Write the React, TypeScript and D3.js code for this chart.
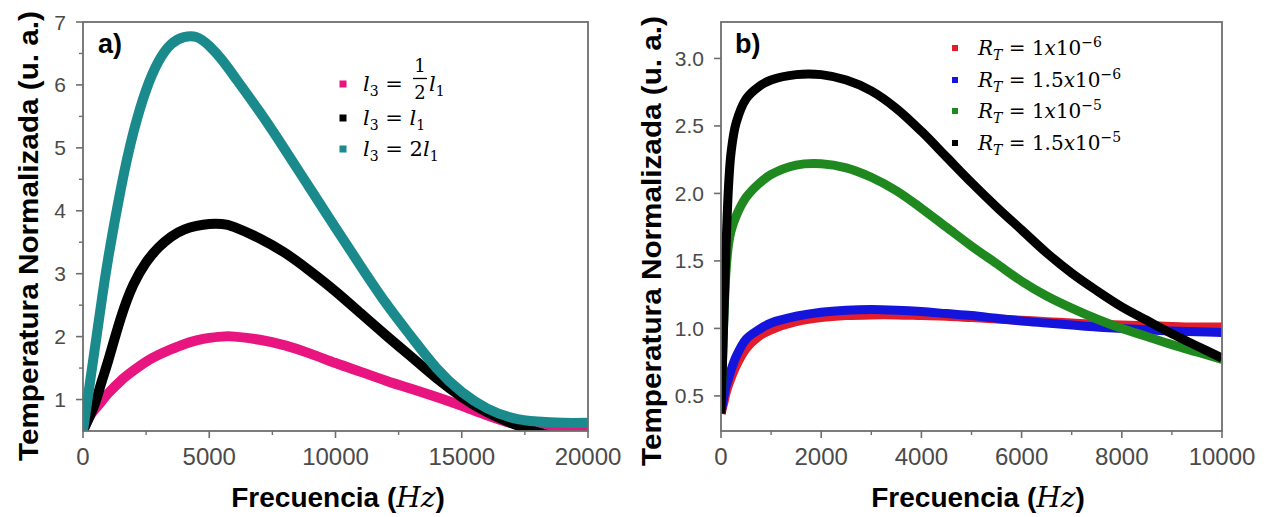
import React from "react";
import * as d3 from "d3";

// ---- Panel a): normalized temperature vs frequency for three l3 lengths ----
const freqA = [0, 250, 500, 750, 1000, 1500, 2000, 2500, 3000, 3500, 4000, 4500, 5000, 5500, 6000, 7000, 8000, 9000, 10000, 11000, 12000, 13000, 14000, 15000, 16000, 17000, 18000, 19000, 20000];
const halfL1 = [0.5, 0.72, 0.86, 0.98, 1.1, 1.3, 1.46, 1.6, 1.71, 1.8, 1.88, 1.94, 1.98, 2.0, 2.0, 1.95, 1.86, 1.73, 1.58, 1.44, 1.3, 1.17, 1.04, 0.9, 0.75, 0.62, 0.54, 0.52, 0.51];
const equalL1 = [0.5, 0.72, 0.97, 1.3, 1.62, 2.3, 2.83, 3.18, 3.42, 3.59, 3.7, 3.76, 3.79, 3.79, 3.74, 3.56, 3.33, 3.04, 2.72, 2.37, 2.02, 1.68, 1.34, 1.04, 0.8, 0.62, 0.48, 0.38, 0.32];
const doubleL1 = [0.5, 1.2, 1.9, 2.6, 3.25, 4.35, 5.25, 5.92, 6.38, 6.65, 6.76, 6.76, 6.62, 6.4, 6.13, 5.57, 4.97, 4.35, 3.73, 3.12, 2.53, 2.0, 1.5, 1.12, 0.86, 0.71, 0.65, 0.63, 0.63];
const xTicksA = [0, 5000, 10000, 15000, 20000];
const xMinorA = [2500, 7500, 12500, 17500];
const yTicksA = [1, 2, 3, 4, 5, 6, 7];
const yMinorA = [1.5, 2.5, 3.5, 4.5, 5.5, 6.5];

// ---- Panel b): normalized temperature vs frequency for four R_T values ----
const freqB = [0, 50, 100, 150, 200, 300, 500, 750, 1000, 1500, 2000, 2500, 3000, 3500, 4000, 4500, 5000, 5500, 6000, 6500, 7000, 7500, 8000, 8500, 9000, 9500, 10000];
const rt1e6 = [0.37, 0.44, 0.52, 0.58, 0.63, 0.72, 0.85, 0.94, 0.99, 1.05, 1.08, 1.095, 1.1, 1.1, 1.095, 1.09, 1.08, 1.07, 1.06, 1.05, 1.04, 1.03, 1.025, 1.02, 1.015, 1.01, 1.01];
const rt15e6 = [0.37, 0.48, 0.57, 0.63, 0.69, 0.79, 0.92, 0.99, 1.04, 1.09, 1.12, 1.135, 1.14, 1.135, 1.125, 1.11, 1.095, 1.075, 1.055, 1.04, 1.025, 1.01, 1.0, 0.99, 0.98, 0.975, 0.97];
const rt1e5 = [0.37, 1.0, 1.42, 1.62, 1.72, 1.83, 1.97, 2.07, 2.14, 2.21, 2.22, 2.19, 2.12, 2.02, 1.89, 1.75, 1.61, 1.48, 1.35, 1.24, 1.15, 1.07, 1.0, 0.94, 0.88, 0.825, 0.77];
const rt15e5 = [0.37, 1.0, 1.6, 2.05, 2.3, 2.52, 2.7, 2.79, 2.84, 2.88, 2.88, 2.84, 2.76, 2.63, 2.46, 2.27, 2.08, 1.9, 1.73, 1.56, 1.41, 1.28, 1.16, 1.06, 0.96, 0.87, 0.78];
const xTicksB = [0, 2000, 4000, 6000, 8000, 10000];
const xMinorB = [1000, 3000, 5000, 7000, 9000];
const yTicksB = [0.5, 1.0, 1.5, 2.0, 2.5, 3.0];

const SANS = "'Liberation Sans', Arial, Helvetica, sans-serif";
const MATH = "'DejaVu Serif', 'Liberation Serif', serif";
const AXIS = "#6e6e6e";
const TICKTXT = "#4a4a4a";

type Series = { values: number[]; color: string };

function Panel(props: {
  id: string;
  freq: number[];
  series: Series[];
  curve: d3.CurveFactory;
  xDomain: [number, number];
  xRange: [number, number];
  yDomain: [number, number];
  yRange: [number, number];
  xTicks: number[];
  xMinor: number[];
  yTicks: number[];
  yMinor: number[];
  yFmt: (v: number) => string;
  strokeW: number;
  titleX: number;
  titleYc: number;
  xTitleC: number;
  tag: string;
  tagX: number;
}) {
  const p = props;
  const x = d3.scaleLinear().domain(p.xDomain).range(p.xRange);
  const y = d3.scaleLinear().domain(p.yDomain).range(p.yRange);
  const [x0, x1] = p.xRange;
  const [yb, yt] = p.yRange;
  const line = d3
    .line<number>()
    .x((_, i) => x(p.freq[i]))
    .y((v) => y(v))
    .curve(p.curve);

  return (
    <g>
      <defs>
        <clipPath id={`clip-${p.id}`}>
          <rect x={x0} y={yt} width={x1 - x0} height={yb - yt} />
        </clipPath>
      </defs>
      <g clipPath={`url(#clip-${p.id})`}>
        {p.series.map((s, i) => (
          <path
            key={i}
            d={line(s.values) || ""}
            fill="none"
            stroke={s.color}
            strokeWidth={p.strokeW}
            strokeLinejoin="round"
          />
        ))}
      </g>
      {/* frame */}
      <rect x={x0} y={yt} width={x1 - x0} height={yb - yt} fill="none" stroke={AXIS} strokeWidth={1.8} />
      {/* x ticks */}
      {p.xTicks.map((t) => (
        <g key={`xt${t}`}>
          <line x1={x(t)} x2={x(t)} y1={yb} y2={yb + 7} stroke={AXIS} strokeWidth={1.6} />
          <text x={x(t)} y={yb + 34} textAnchor="middle" fontFamily={SANS} fontSize={24} fill={TICKTXT}>
            {t}
          </text>
        </g>
      ))}
      {p.xMinor.map((t) => (
        <line key={`xm${t}`} x1={x(t)} x2={x(t)} y1={yb} y2={yb + 4} stroke={AXIS} strokeWidth={1.4} />
      ))}
      {/* y ticks */}
      {p.yTicks.map((t) => (
        <g key={`yt${t}`}>
          <line x1={x0 - 7} x2={x0} y1={y(t)} y2={y(t)} stroke={AXIS} strokeWidth={1.6} />
          <text x={x0 - 17} y={y(t)} dy="0.36em" textAnchor="end" fontFamily={SANS} fontSize={21} fill={TICKTXT}>
            {p.yFmt(t)}
          </text>
        </g>
      ))}
      {p.yMinor.map((t) => (
        <line key={`ym${t}`} x1={x0 - 4} x2={x0} y1={y(t)} y2={y(t)} stroke={AXIS} strokeWidth={1.4} />
      ))}
      {/* panel tag */}
      <text x={p.tagX} y={53} fontFamily={SANS} fontWeight="bold" fontSize={27} fill="#000">
        {p.tag}
      </text>
      {/* axis titles */}
      <text x={p.xTitleC} y={507} textAnchor="middle" fontFamily={SANS} fontWeight="bold" fontSize={28} fill="#000">
        {"Frecuencia ("}
        <tspan fontFamily={MATH} fontStyle="italic" fontWeight="normal">Hz</tspan>
        {")"}
      </text>
      <text
        transform={`translate(${p.titleX},${p.titleYc}) rotate(-90)`}
        textAnchor="middle"
        fontFamily={SANS}
        fontWeight="bold"
        fontSize={28}
        fill="#000"
        textLength={450}
        lengthAdjust="spacingAndGlyphs"
      >
        Temperatura Normalizada (u. a.)
      </text>
    </g>
  );
}

function Sub(props: { children: React.ReactNode; italic?: boolean }) {
  return (
    <tspan dy={5} fontSize={14} fontStyle={props.italic ? "italic" : "normal"}>
      {props.children}
    </tspan>
  );
}

export default function App() {
  const colA = { half: "#e8147f", equal: "#000000", double: "#1a8a8c" };
  const colB = { r1: "#e31e2a", r2: "#1414dc", r3: "#1f891f", r4: "#000000" };

  return (
    <svg
      width={1271}
      height={517}
      viewBox="0 0 1271 517"
      style={{ position: "absolute", left: 0, top: 0, background: "#fff" }}
    >
      <rect width={1271} height={517} fill="#fff" />
      <Panel
        id="a"
        freq={freqA}
        series={[
          { values: halfL1, color: colA.half },
          { values: equalL1, color: colA.equal },
          { values: doubleL1, color: colA.double },
        ]}
        curve={d3.curveNatural}
        xDomain={[0, 20000]}
        xRange={[83, 588]}
        yDomain={[0.5, 7]}
        yRange={[431, 22]}
        xTicks={xTicksA}
        xMinor={xMinorA}
        yTicks={yTicksA}
        yMinor={yMinorA}
        yFmt={(v) => String(v)}
        strokeW={10}
        titleX={38}
        titleYc={236}
        xTitleC={338}
        tag="a)"
        tagX={98}
      />
      <Panel
        id="b"
        freq={freqB}
        series={[
          { values: rt1e6, color: colB.r1 },
          { values: rt15e6, color: colB.r2 },
          { values: rt1e5, color: colB.r3 },
          { values: rt15e5, color: colB.r4 },
        ]}
        curve={d3.curveCatmullRom.alpha(0.5)}
        xDomain={[0, 10000]}
        xRange={[721, 1222]}
        yDomain={[0.24, 3.27]}
        yRange={[431, 22]}
        xTicks={xTicksB}
        xMinor={xMinorB}
        yTicks={yTicksB}
        yMinor={[]}
        yFmt={(v) => v.toFixed(1)}
        strokeW={9}
        titleX={661}
        titleYc={241}
        xTitleC={978}
        tag="b)"
        tagX={735}
      />

      {/* legend, panel a */}
      <g fontFamily={MATH} fontSize={21} fill="#000">
        <rect x={339.5} y={80.5} width={7} height={7} fill={colA.half} />
        <text x={363} y={91}>
          <tspan fontStyle="italic">l</tspan>
          <Sub>3</Sub>
          <tspan dy={-5}>{" = "}</tspan>
        </text>
        <text x={420} y={72} textAnchor="middle" fontSize={18}>1</text>
        <line x1={413} x2={427} y1={78.5} y2={78.5} stroke="#000" strokeWidth={1.3} />
        <text x={420} y={99} textAnchor="middle" fontSize={18}>2</text>
        <text x={429} y={91}>
          <tspan fontStyle="italic">l</tspan>
          <Sub>1</Sub>
        </text>

        <rect x={339.5} y={114.5} width={7} height={7} fill={colA.equal} />
        <text x={363} y={125}>
          <tspan fontStyle="italic">l</tspan>
          <Sub>3</Sub>
          <tspan dy={-5}>{" = "}</tspan>
          <tspan fontStyle="italic">l</tspan>
          <Sub>1</Sub>
        </text>

        <rect x={339.5} y={145.5} width={7} height={7} fill={colA.double} />
        <text x={363} y={156}>
          <tspan fontStyle="italic">l</tspan>
          <Sub>3</Sub>
          <tspan dy={-5}>{" = 2"}</tspan>
          <tspan fontStyle="italic">l</tspan>
          <Sub>1</Sub>
        </text>
      </g>

      {/* legend, panel b */}
      <g fontFamily={MATH} fontSize={20} fill="#000">
        {[
          { c: colB.r1, m: "1", e: "−6", y: 48 },
          { c: colB.r2, m: "1.5", e: "−6", y: 80 },
          { c: colB.r3, m: "1", e: "−5", y: 111 },
          { c: colB.r4, m: "1.5", e: "−5", y: 143 },
        ].map((r) => (
          <g key={r.y}>
            <rect x={952} y={r.y - 3} width={6} height={6} fill={r.c} />
            <text x={978} y={r.y + 7}>
              <tspan fontStyle="italic">R</tspan>
              <Sub italic>T</Sub>
              <tspan dy={-5}>{` = ${r.m}`}</tspan>
              <tspan fontStyle="italic">x</tspan>
              <tspan>10</tspan>
              <tspan dy={-8} fontSize={14}>{r.e}</tspan>
            </text>
          </g>
        ))}
      </g>
    </svg>
  );
}
